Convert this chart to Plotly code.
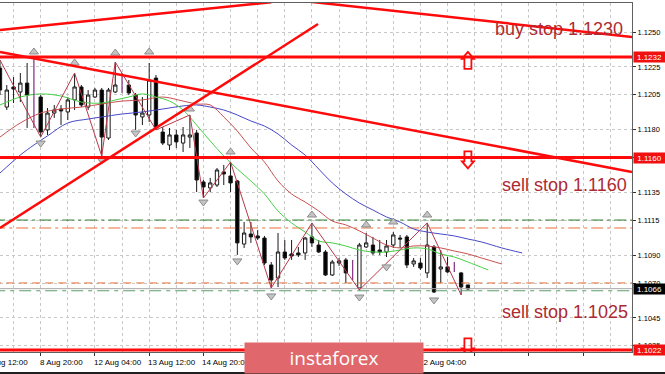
import plotly.graph_objects as go

# ---------------- data (H4 bars, index 0 = left edge) ----------------
bar_idx = list(range(70))
open_ = [1.12242, 1.11962, 1.12106, 1.12070, 1.12134, None, 1.12034, 1.11798, 1.11919, 1.11948,
         1.11927, 1.12013, 1.12106, 1.11962, 1.12034, 1.12084, 1.11740, 1.12070, None, 1.12120,
         1.12048, 1.11891, 1.11905, 1.12170, 1.11783, 1.11690, 1.11762, 1.11704, 1.11747, 1.11776,
         1.11425, 1.11382, 1.11403, 1.11497, 1.11468, 1.11432, 1.10980, 1.11052, 1.11038, 1.11023,
         1.10830, 1.10737, 1.10923, 1.10909, 1.10916, 1.10916, 1.11031, 1.10973, 1.10923, 1.10758,
         1.10844, 1.10866, None, 1.10665, 1.10959, 1.10973, 1.10937, 1.10923, 1.10973, 1.11023,
         1.11031, 1.10837, 1.10844, 1.10773, 1.10959, 1.10801, 1.10816, None, 1.10773, 1.10687]
high = [1.12299, 1.12120, 1.12177, 1.12206, 1.12278, None, 1.12048, 1.11955, 1.11977, 1.11977,
        1.12034, 1.12206, 1.12120, 1.12084, 1.12099, 1.12099, 1.12099, 1.12285, None, 1.12156,
        1.12063, 1.12034, 1.12278, 1.12192, 1.11819, 1.11812, 1.11798, 1.11819, 1.11905, 1.11798,
        1.11439, 1.11454, 1.11525, 1.11547, 1.11568, 1.11439, 1.11138, 1.11138, 1.11081, 1.11038,
        1.10851, 1.11059, 1.11009, 1.11009, 1.10959, 1.11031, 1.11131, 1.11009, 1.10937, 1.10866,
        1.10880, 1.10880, None, 1.10988, 1.11059, 1.11031, 1.11009, 1.11009, 1.11066, 1.11045,
        1.11045, 1.10880, 1.10880, 1.11131, 1.10973, 1.10937, 1.10887, None, 1.10780, 1.10687]
low = [1.12048, 1.11941, 1.11991, 1.11998, 1.11812, None, 1.11747, 1.11762, 1.11884, 1.11833,
       1.11869, 1.11941, 1.11962, 1.11941, 1.12027, 1.11611, 1.11726, 1.12063, None, 1.12048,
       1.11798, 1.11833, 1.11855, 1.11798, 1.11690, 1.11654, 1.11669, 1.11640, 1.11669, 1.11353,
       1.11310, 1.11353, 1.11389, 1.11403, 1.11353, 1.10902, 1.10952, 1.10988, 1.11009, 1.10830,
       1.10665, 1.10672, 1.10866, 1.10866, 1.10887, 1.10866, 1.10959, 1.10916, 1.10751, 1.10751,
       1.10823, 1.10701, None, 1.10651, 1.10952, 1.10902, 1.10902, 1.10887, 1.10952, 1.10952,
       1.10808, 1.10816, 1.10794, 1.10737, 1.10629, 1.10701, 1.10773, None, 1.10615, 1.10651]
close = [1.12084, 1.12084, 1.12091, 1.12134, 1.12048, None, 1.11783, 1.11919, 1.11941, 1.11934,
         1.12013, 1.12106, 1.11977, 1.12048, 1.12084, 1.11747, 1.12084, 1.12120, None, 1.12063,
         1.11905, 1.11919, 1.12156, 1.11812, 1.11704, 1.11762, 1.11712, 1.11762, 1.11762, 1.11439,
         1.11389, 1.11418, 1.11511, 1.11482, 1.11418, 1.10988, 1.11059, 1.11031, 1.11023, 1.10844,
         1.10722, 1.10923, 1.10880, 1.10894, 1.10902, 1.11023, 1.10988, 1.10923, 1.10758, 1.10851,
         1.10859, 1.10773, None, 1.10973, 1.10988, 1.10916, 1.10923, 1.10966, 1.11045, 1.11016,
         1.10830, 1.10859, 1.10808, 1.10973, 1.10636, 1.10816, 1.10780, None, 1.10672, 1.10658]

# doji bars drawn in purple
purple_idx = [5, 18, 52, 67]
purple_high = [1.12321, 1.12206, 1.10866, 1.10851]
purple_low = [1.11812, 1.12063, 1.10722, 1.10780]

# Alligator lines
lips_idx = [0, 3, 6, 9, 12, 15, 17, 19, 21, 23, 25, 27, 29, 31, 33, 35, 37, 39, 41, 43, 45, 47, 49, 51,
            53, 55, 57, 59, 61, 63, 65, 67, 69, 72]
lips = [1.11977, 1.12034, 1.12056, 1.12041, 1.11998, 1.11991, 1.12013, 1.12034, 1.12056, 1.12034,
        1.12005, 1.11941, 1.11833, 1.11719, 1.11611, 1.11518, 1.11432, 1.11339, 1.11217, 1.11131,
        1.11066, 1.11002, 1.10988, 1.10966, 1.10937, 1.10923, 1.10923, 1.10937, 1.10952, 1.10945,
        1.10909, 1.10887, 1.10851, 1.10794]
teeth_idx = [0, 3, 6, 9, 12, 15, 18, 21, 24, 27, 29, 31, 33, 35, 37, 39, 41, 43, 45, 47, 49, 51, 53,
             55, 57, 59, 61, 63, 65, 67, 69, 71, 74]
teeth = [1.11747, 1.11848, 1.11919, 1.11948, 1.11962, 1.11984, 1.12005, 1.12013, 1.12034, 1.12005,
         1.11984, 1.11977, 1.11891, 1.11790, 1.11669, 1.11568, 1.11432, 1.11339, 1.11281, 1.11217,
         1.11145, 1.11117, 1.11074, 1.11023, 1.10973, 1.10952, 1.10966, 1.10966, 1.10952, 1.10930,
         1.10909, 1.10880, 1.10837]
jaw_idx = [0, 3, 5, 7, 10, 13, 15, 18, 21, 24, 27, 29, 31, 33, 35, 37, 39, 41, 43, 45, 47, 49, 51, 53,
           55, 57, 59, 61, 63, 65, 67, 69, 71, 74, 77]
jaw = [1.11489, 1.11618, 1.11690, 1.11755, 1.11848, 1.11876, 1.11891, 1.11912, 1.11927, 1.11948,
       1.11970, 1.11977, 1.11962, 1.11941, 1.11905, 1.11862, 1.11826, 1.11769, 1.11690, 1.11618,
       1.11518, 1.11418, 1.11339, 1.11274, 1.11224, 1.11174, 1.11138, 1.11088, 1.11066, 1.11052,
       1.11038, 1.11016, 1.10995, 1.10952, 1.10916]

# ZigZag
zz_idx = [0, 6, 11, 15, 17, 23, 28, 30, 34, 40, 46, 53, 63, 68]
zz = [1.12299, 1.11747, 1.12206, 1.11611, 1.12285, 1.11798, 1.11905, 1.11310, 1.11568, 1.10665,
      1.11131, 1.10651, 1.11131, 1.10615]

# Fractals
frac_up_idx = [5, 11, 17, 22, 28, 34, 46, 54, 58, 63]
frac_up = [1.12357, 1.12278, 1.12349, 1.12357, 1.11948, 1.11640, 1.11188, 1.11117, 1.11138, 1.11188]
frac_dn_idx = [6, 15, 20, 30, 35, 40, 53, 57, 64]
frac_dn = [1.11704, 1.11583, 1.11776, 1.11281, 1.10859, 1.10608, 1.10600, 1.10816, 1.10579]

# levels and trend lines
buy_stop = 1.1232
sell_stop_hi = 1.1160
sell_stop_lo = 1.1022
bid = 1.1066
green_dashdot = 1.11152
orange_dashdot = 1.11095
orange_dash = 1.10701
green_dash = 1.10645
top_rise = ([0, 40], [1.12514, 1.12714])
top_fall = ([45.7, 95], [1.12717, 1.12455])
trend_down = ([0, 93.2], [1.12357, 1.11497])
trend_up = ([0, 46.9], [1.11095, 1.12557])

# order arrows (bar index, price at arrow centre, direction)
arrow_idx = [69, 69, 69]
arrow_price = [1.12297, 1.11583, 1.10243]
arrow_dir = ["up", "down", "down"]

price_ticks = [1.1250, 1.1225, 1.1205, 1.1180, 1.1160, 1.1135, 1.1115, 1.1090, 1.1070, 1.1045, 1.1025]
time_tick_idx = [-2, 6, 14, 22, 30, 38, 46, 54, 62]
time_tick_labels = ["7 Aug 12:00", "8 Aug 20:00", "12 Aug 04:00", "13 Aug 12:00", "14 Aug 20:00",
                    "16 Aug 04:00", "19 Aug 12:00", "20 Aug 20:00", "22 Aug 04:00"]

x_range = [0, 93.2]
y_range = [1.10206, 1.12708]

RED = "#ff0a0a"
TXT = "#ad2a32"
FONT = "Liberation Sans, Arial, sans-serif"

fig = go.Figure()

def hline(y, color, width, dash="solid"):
    fig.add_trace(go.Scatter(x=[x_range[0] - 1, x_range[1] + 1], y=[y, y], mode="lines",
                             line=dict(color=color, width=width, dash=dash),
                             hoverinfo="skip", showlegend=False))

hline(bid, "#a8a8a8", 1)
hline(green_dashdot, "#2a7d2a", 1, "12px,4px,3px,4px")
hline(orange_dashdot, "#e8703a", 1, "12px,4px,3px,4px")
hline(orange_dash, "#e8703a", 1, "8px,5px")
hline(green_dash, "#5c9c6c", 1, "12px,5px,4px,5px")

# Alligator
fig.add_trace(go.Scatter(x=jaw_idx, y=jaw, mode="lines", line=dict(color="#4848c8", width=1),
                         line_shape="spline", showlegend=False, hoverinfo="skip"))
fig.add_trace(go.Scatter(x=teeth_idx, y=teeth, mode="lines", line=dict(color="#c85050", width=1),
                         line_shape="spline", showlegend=False, hoverinfo="skip"))
fig.add_trace(go.Scatter(x=lips_idx, y=lips, mode="lines", line=dict(color="#46d046", width=1),
                         line_shape="spline", showlegend=False, hoverinfo="skip"))

# candles
fig.add_trace(go.Candlestick(
    x=bar_idx, open=open_, high=high, low=low, close=close,
    increasing=dict(line=dict(color="#1a1a1a", width=1), fillcolor="#ffffff"),
    decreasing=dict(line=dict(color="#1a1a1a", width=1), fillcolor="#000000"),
    whiskerwidth=0, showlegend=False, hoverinfo="skip"))

px, py = [], []
for i, h, l in zip(purple_idx, purple_high, purple_low):
    px += [i, i, None]
    py += [l, h, None]
fig.add_trace(go.Scatter(x=px, y=py, mode="lines", line=dict(color="#8a3a8a", width=1.3),
                         showlegend=False, hoverinfo="skip"))

# zigzag
fig.add_trace(go.Scatter(x=zz_idx, y=zz, mode="lines", line=dict(color="#b83848", width=1),
                         showlegend=False, hoverinfo="skip"))

# fractals
fig.add_trace(go.Scatter(x=frac_up_idx, y=frac_up, mode="markers",
                         marker=dict(symbol="triangle-up", size=8, color="#c4c4c4",
                                     line=dict(color="#8c8c8c", width=1)),
                         showlegend=False, hoverinfo="skip"))
fig.add_trace(go.Scatter(x=frac_dn_idx, y=frac_dn, mode="markers",
                         marker=dict(symbol="triangle-down", size=8, color="#c4c4c4",
                                     line=dict(color="#8c8c8c", width=1)),
                         showlegend=False, hoverinfo="skip"))

# red objects
for xs, ys in [top_rise, top_fall, trend_down, trend_up]:
    fig.add_trace(go.Scatter(x=xs, y=ys, mode="lines", line=dict(color=RED, width=2.5),
                             showlegend=False, hoverinfo="skip"))
for lvl in [buy_stop, sell_stop_hi, sell_stop_lo]:
    hline(lvl, RED, 3)

# hollow block arrows, anchored on data, sized in pixels
UP_PATH = "M -3.5,-8.5 L 3.5,-8.5 L 3.5,1.5 L 6,1.5 L 0,8.5 L -6,1.5 L -3.5,1.5 Z"
DOWN_PATH = "M -3.5,8.5 L 3.5,8.5 L 3.5,-1.5 L 6,-1.5 L 0,-8.5 L -6,-1.5 L -3.5,-1.5 Z"
shapes = []
for i, p, d in zip(arrow_idx, arrow_price, arrow_dir):
    shapes.append(dict(type="path", xref="x", yref="y", xsizemode="pixel", ysizemode="pixel",
                       xanchor=i, yanchor=p, path=UP_PATH if d == "up" else DOWN_PATH,
                       line=dict(color=RED, width=1.8), fillcolor="rgba(255,255,255,0)", layer="above"))
shapes.append(dict(type="line", xref="paper", yref="paper", x0=0, x1=665 / 632,
                   y0=(352 - 373) / 349, y1=(352 - 373) / 349, line=dict(color="#202020", width=2)))

annotations = []
for txt, xp, yp in [("buy stop 1.1230", 493, 29), ("sell stop 1.1160", 500, 185),
                    ("sell stop 1.1025", 500, 312)]:
    annotations.append(dict(text=txt, xref="paper", yref="paper", x=xp / 632, y=(352 - yp) / 349,
                            xanchor="left", yanchor="middle", showarrow=False,
                            font=dict(family=FONT, size=18, color=TXT)))

# price labels on right axis
for lvl, bg in [(buy_stop, "#f01010"), (sell_stop_hi, "#f01010"), (sell_stop_lo, "#f01010"), (bid, "#000000")]:
    annotations.append(dict(text=f"{lvl:.4f}", xref="paper", yref="y", x=1, y=lvl, xanchor="left",
                            yanchor="middle", xshift=1, showarrow=False, bgcolor=bg, width=31, height=10,
                            borderpad=0, font=dict(family=FONT, size=8, color="#ffffff")))

# time labels (left-anchored at tick like MT4)
for i, lab in zip(time_tick_idx, time_tick_labels):
    annotations.append(dict(text=lab, xref="paper", yref="paper",
                            x=(i - x_range[0]) / (x_range[1] - x_range[0]), y=(352 - 362) / 349,
                            xanchor="left", yanchor="middle", xshift=-3, showarrow=False,
                            font=dict(family=FONT, size=8, color="#000000")))

# watermark
annotations.append(dict(text="instaforex", xref="paper", yref="paper", x=334 / 632, y=(352 - 358) / 349,
                        xanchor="center", yanchor="middle", showarrow=False, bgcolor="#e0686c",
                        width=178, height=30, borderpad=0,
                        font=dict(family="Open Sans, sans-serif", size=19, color="#ffffff")))

fig.update_layout(
    width=665, height=374, margin=dict(l=0, r=33, t=3, b=22),
    paper_bgcolor="#ffffff", plot_bgcolor="#ffffff",
    annotations=annotations, shapes=shapes,
    xaxis=dict(range=x_range, showticklabels=False, tickmode="array",
               tickvals=[6, 14, 22, 30, 38, 46, 54, 62, 70, 78, 86], ticks="outside", ticklen=3,
               tickcolor="#303030", showgrid=True, gridcolor="#c8c8c8", griddash="3px,3px",
               minor=dict(tick0=2, dtick=4, showgrid=True, gridcolor="#c8c8c8", griddash="3px,3px"),
               showline=True, linecolor="#606060", mirror=True, zeroline=False,
               rangeslider=dict(visible=False), fixedrange=True),
    yaxis=dict(range=y_range, side="right", tickmode="array", tickvals=price_ticks,
               ticktext=[f"{v:.4f}" for v in price_ticks], ticks="outside", ticklen=3,
               tickcolor="#303030", tickfont=dict(family=FONT, size=7.5, color="#000000"),
               showgrid=True, gridcolor="#c8c8c8", griddash="3px,3px",
               showline=True, linecolor="#606060", zeroline=False, fixedrange=True),
    font=dict(family=FONT),
)

fig.write_html("out.html")
